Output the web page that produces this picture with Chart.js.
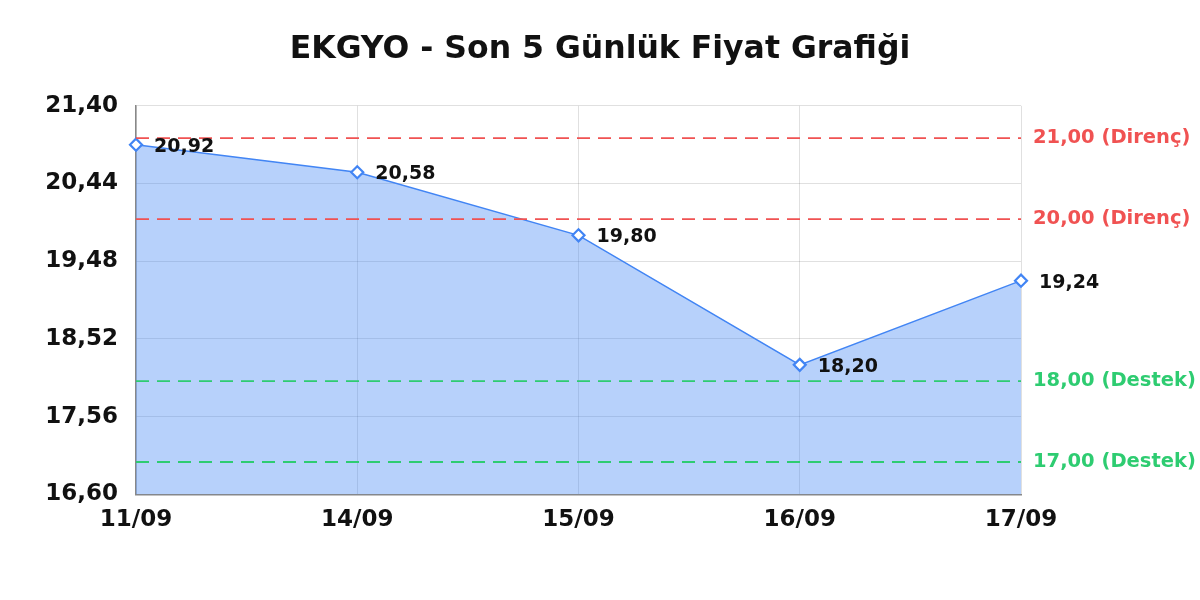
<!DOCTYPE html>
<html>
<head>
<meta charset="utf-8">
<script src="https://cdn.jsdelivr.net/npm/chart.js@4/dist/chart.umd.min.js"></script>
<style>
html,body{margin:0;padding:0;background:#fff;}
#wrap{width:1200px;height:600px;}
</style>
</head>
<body>
<div id="wrap"><canvas id="c" width="1200" height="600"></canvas></div>
<script>
const categories = ['11/09', '14/09', '15/09', '16/09', '17/09'];
const prices = [20.92, 20.58, 19.80, 18.20, 19.24];
const yTicks = [16.60, 17.56, 18.52, 19.48, 20.44, 21.40];
const resistanceLevels = [21.00, 20.00];
const supportLevels = [18.00, 17.00];
const titleText = 'EKGYO - Son 5 Günlük Fiyat Grafiği';

const FONT = 'DejaVu Sans';
const RED = '#f05252';
const GREEN = '#2ecc71';
const fmt = v => v.toFixed(2).replace('.', ',');

const levelPlugin = {
  id: 'levels',
  afterDatasetsDraw(chart) {
    const ctx = chart.ctx, ca = chart.chartArea, y = chart.scales.y;
    const draw = (vals, color, word) => {
      vals.forEach(v => {
        const py = y.getPixelForValue(v);
        ctx.save();
        ctx.strokeStyle = color;
        ctx.lineWidth = 1.8;
        ctx.setLineDash([13, 8]);
        ctx.beginPath();
        ctx.moveTo(ca.left, py);
        ctx.lineTo(ca.right, py);
        ctx.stroke();
        ctx.setLineDash([]);
        ctx.fillStyle = color;
        ctx.font = 'bold 19.5px "DejaVu Sans"';
        ctx.textAlign = 'left';
        ctx.textBaseline = 'middle';
        ctx.fillText(fmt(v) + ' (' + word + ')', ca.right + 12, py);
        ctx.restore();
      });
    };
    draw(resistanceLevels, RED, 'Direnç');
    draw(supportLevels, GREEN, 'Destek');
  },
  afterDraw(chart) {
    const ctx = chart.ctx;
    const meta = chart.getDatasetMeta(0);
    ctx.save();
    ctx.fillStyle = '#111';
    ctx.font = 'bold 19px "DejaVu Sans"';
    ctx.textAlign = 'left';
    ctx.textBaseline = 'middle';
    meta.data.forEach((pt, i) => {
      ctx.fillText(fmt(prices[i]), pt.x + 18, pt.y + 2);
    });
    ctx.restore();
  }
};

Chart.defaults.font.family = FONT;

new Chart(document.getElementById('c'), {
  type: 'line',
  data: {
    labels: categories,
    datasets: [{
      data: prices,
      borderColor: 'rgb(66,133,244)',
      backgroundColor: 'rgba(66,133,244,0.38)',
      borderWidth: 1.5,
      fill: 'start',
      tension: 0,
      pointStyle: 'rectRot',
      pointRadius: 6,
      pointBorderWidth: 2.2,
      pointBackgroundColor: '#fff',
      pointBorderColor: 'rgb(66,133,244)'
    }]
  },
  options: {
    responsive: false,
    animation: false,
    layout: { padding: { left: 0, right: 0, top: 0, bottom: 54 } },
    plugins: {
      legend: { display: false },
      tooltip: { enabled: false },
      title: {
        display: true,
        text: titleText,
        color: '#111',
        font: { family: FONT, size: 31.5, weight: 'bold' },
        padding: { top: 31, bottom: 37 }
      }
    },
    scales: {
      x: {
        offset: false,
        grid: { color: 'rgba(0,0,0,0.12)', drawTicks: false },
        border: { color: '#888', width: 1.5 },
        ticks: { color: '#111', font: { family: FONT, size: 23, weight: 'bold' }, padding: 12, maxRotation: 0 }
      },
      y: {
        min: 16.6,
        max: 21.4,
        afterBuildTicks: s => { s.ticks = yTicks.map(v => ({ value: v })); },
        afterFit: s => { s.width = 136; },
        grid: { color: 'rgba(0,0,0,0.12)', drawTicks: false },
        border: { color: '#888', width: 1.5 },
        ticks: { color: '#111', font: { family: FONT, size: 23, weight: 'bold' }, padding: 18, callback: v => fmt(v) }
      },
      yRight: {
        type: 'linear',
        position: 'right',
        min: 16.6,
        max: 21.4,
        afterFit: s => { s.width = 179; },
        grid: { display: false },
        border: { display: false },
        ticks: { display: false }
      }
    }
  },
  plugins: [levelPlugin]
});
</script>
</body>
</html>
